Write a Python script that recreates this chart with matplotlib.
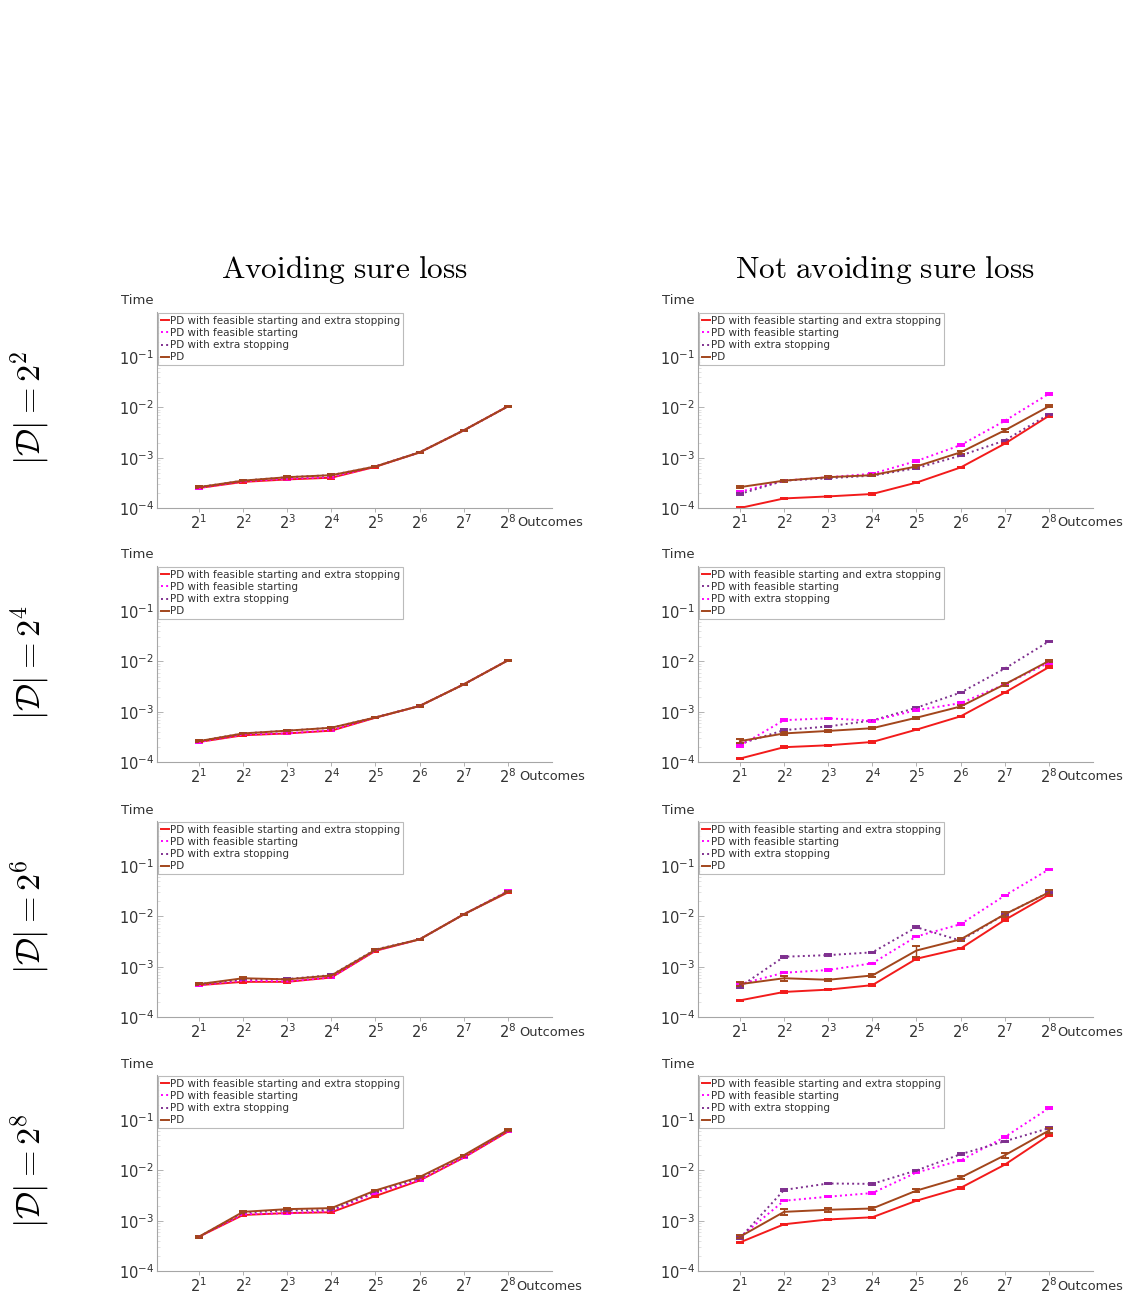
import matplotlib
matplotlib.use("Agg")
import matplotlib.pyplot as plt
from matplotlib.lines import Line2D
import numpy as np

# x positions are exponents of 2 (number of outcomes)
outcome_exp = [1, 2, 3, 4, 5, 6, 7, 8]
outcome_labels = [r"$2^{%d}$" % e for e in outcome_exp]

labels = [
    "PD with feasible starting and extra stopping",
    "PD with feasible starting",
    "PD with extra stopping",
    "PD",
]
col_titles = ["Avoiding sure loss", "Not avoiding sure loss"]
row_titles = [r"$|\mathcal{D}| = 2^2$", r"$|\mathcal{D}| = 2^4$",
              r"$|\mathcal{D}| = 2^6$", r"$|\mathcal{D}| = 2^8$"]

# ---- avoiding sure loss (left column) ----
asl_d2_fsx = [2.5e-4, 3.3e-4, 3.7e-4, 4.0e-4, 6.6e-4, 1.27e-3, 3.5e-3, 1.05e-2]
asl_d2_fs = [2.5e-4, 3.4e-4, 3.8e-4, 4.1e-4, 6.7e-4, 1.28e-3, 3.5e-3, 1.05e-2]
asl_d2_xs = [2.6e-4, 3.5e-4, 4.1e-4, 4.5e-4, 6.7e-4, 1.28e-3, 3.5e-3, 1.05e-2]
asl_d2_pd = [2.6e-4, 3.5e-4, 4.1e-4, 4.5e-4, 6.7e-4, 1.28e-3, 3.5e-3, 1.05e-2]

asl_d4_fsx = [2.5e-4, 3.4e-4, 3.7e-4, 4.2e-4, 7.6e-4, 1.3e-3, 3.5e-3, 1.05e-2]
asl_d4_fs = [2.5e-4, 3.5e-4, 3.7e-4, 4.3e-4, 7.7e-4, 1.3e-3, 3.5e-3, 1.05e-2]
asl_d4_xs = [2.6e-4, 3.7e-4, 4.2e-4, 4.8e-4, 7.7e-4, 1.3e-3, 3.5e-3, 1.05e-2]
asl_d4_pd = [2.6e-4, 3.7e-4, 4.2e-4, 4.8e-4, 7.7e-4, 1.3e-3, 3.5e-3, 1.05e-2]

asl_d6_fsx = [4.3e-4, 5.0e-4, 5.0e-4, 6.1e-4, 2.07e-3, 3.5e-3, 1.1e-2, 3.0e-2]
asl_d6_fs = [4.3e-4, 5.3e-4, 5.1e-4, 6.1e-4, 2.1e-3, 3.5e-3, 1.1e-2, 3.2e-2]
asl_d6_xs = [4.5e-4, 5.6e-4, 5.7e-4, 6.8e-4, 2.2e-3, 3.5e-3, 1.1e-2, 3.1e-2]
asl_d6_pd = [4.5e-4, 5.9e-4, 5.6e-4, 6.7e-4, 2.16e-3, 3.5e-3, 1.1e-2, 3.1e-2]

asl_d8_fsx = [4.8e-4, 1.3e-3, 1.42e-3, 1.47e-3, 3.1e-3, 6.3e-3, 1.8e-2, 5.9e-2]
asl_d8_fs = [4.8e-4, 1.35e-3, 1.4e-3, 1.55e-3, 3.6e-3, 6.4e-3, 1.8e-2, 6.0e-2]
asl_d8_xs = [4.8e-4, 1.45e-3, 1.6e-3, 1.63e-3, 3.8e-3, 7.0e-3, 1.95e-2, 6.2e-2]
asl_d8_pd = [4.8e-4, 1.5e-3, 1.7e-3, 1.78e-3, 4.0e-3, 7.4e-3, 2.0e-2, 6.4e-2]

# ---- not avoiding sure loss (right column) ----
nasl_d2_fsx = [1.0e-4, 1.55e-4, 1.7e-4, 1.9e-4, 3.2e-4, 6.4e-4, 1.9e-3, 6.8e-3]
nasl_d2_fs = [2.1e-4, 3.5e-4, 4.1e-4, 4.8e-4, 8.6e-4, 1.78e-3, 5.4e-3, 1.87e-2]
nasl_d2_xs = [1.9e-4, 3.5e-4, 3.9e-4, 4.4e-4, 6.2e-4, 1.1e-3, 2.2e-3, 7.3e-3]
nasl_d2_pd = [2.6e-4, 3.5e-4, 4.1e-4, 4.5e-4, 6.7e-4, 1.28e-3, 3.5e-3, 1.05e-2]
nasl_d2_pd_err = [0.04, 0.05, 0.05, 0.04, 0.06, 0.08, 0.08, 0.05]

nasl_d4_fsx = [1.17e-4, 1.97e-4, 2.15e-4, 2.5e-4, 4.4e-4, 8.1e-4, 2.4e-3, 7.7e-3]
nasl_d4_fs = [2.3e-4, 4.3e-4, 5.1e-4, 6.7e-4, 1.2e-3, 2.4e-3, 7.2e-3, 2.5e-2]
nasl_d4_xs = [2.1e-4, 6.8e-4, 7.4e-4, 6.6e-4, 1.07e-3, 1.48e-3, 3.5e-3, 9.4e-3]
nasl_d4_pd = [2.6e-4, 3.7e-4, 4.15e-4, 4.7e-4, 7.6e-4, 1.27e-3, 3.5e-3, 1.02e-2]
nasl_d4_pd_err = [0.08, 0.05, 0.04, 0.04, 0.04, 0.05, 0.06, 0.05]

nasl_d6_fsx = [2.14e-4, 3.15e-4, 3.5e-4, 4.3e-4, 1.44e-3, 2.3e-3, 8.5e-3, 2.7e-2]
nasl_d6_fs = [4.5e-4, 7.6e-4, 8.6e-4, 1.17e-3, 4.0e-3, 7.0e-3, 2.6e-2, 8.6e-2]
nasl_d6_xs = [4.0e-4, 1.58e-3, 1.7e-3, 1.93e-3, 6.1e-3, 3.3e-3, 1.1e-2, 3.0e-2]
nasl_d6_pd = [4.5e-4, 5.9e-4, 5.5e-4, 6.7e-4, 2.1e-3, 3.5e-3, 1.1e-2, 3.0e-2]
nasl_d6_pd_err = [0.1, 0.12, 0.05, 0.06, 0.25, 0.08, 0.1, 0.1]

nasl_d8_fsx = [3.7e-4, 8.5e-4, 1.06e-3, 1.17e-3, 2.5e-3, 4.5e-3, 1.3e-2, 5.0e-2]
nasl_d8_fs = [4.7e-4, 2.5e-3, 3.0e-3, 3.55e-3, 9.1e-3, 1.58e-2, 4.6e-2, 1.73e-1]
nasl_d8_xs = [4.5e-4, 4.1e-3, 5.5e-3, 5.4e-3, 1.0e-2, 2.1e-2, 3.8e-2, 6.9e-2]
nasl_d8_pd = [4.8e-4, 1.5e-3, 1.65e-3, 1.75e-3, 3.97e-3, 7.2e-3, 2.0e-2, 6.2e-2]
nasl_d8_pd_err = [0.06, 0.15, 0.08, 0.05, 0.07, 0.06, 0.1, 0.1]

RED = "#f21b1b"
MAGENTA = "#ff00ff"
PURPLE = "#7e2f8e"
BROWN = "#a2461c"
AXIS_GRAY = "#a6a6a6"
TEXT_GRAY = "#333333"

panels = [
    # (row, col, fsx, fs, xs, pd, pd_err, colours for fs/xs)
    (0, 0, asl_d2_fsx, asl_d2_fs, asl_d2_xs, asl_d2_pd, None, (MAGENTA, PURPLE)),
    (1, 0, asl_d4_fsx, asl_d4_fs, asl_d4_xs, asl_d4_pd, None, (MAGENTA, PURPLE)),
    (2, 0, asl_d6_fsx, asl_d6_fs, asl_d6_xs, asl_d6_pd, None, (MAGENTA, PURPLE)),
    (3, 0, asl_d8_fsx, asl_d8_fs, asl_d8_xs, asl_d8_pd, None, (MAGENTA, PURPLE)),
    (0, 1, nasl_d2_fsx, nasl_d2_fs, nasl_d2_xs, nasl_d2_pd, nasl_d2_pd_err, (MAGENTA, PURPLE)),
    (1, 1, nasl_d4_fsx, nasl_d4_fs, nasl_d4_xs, nasl_d4_pd, nasl_d4_pd_err, (PURPLE, MAGENTA)),
    (2, 1, nasl_d6_fsx, nasl_d6_fs, nasl_d6_xs, nasl_d6_pd, nasl_d6_pd_err, (MAGENTA, PURPLE)),
    (3, 1, nasl_d8_fsx, nasl_d8_fs, nasl_d8_xs, nasl_d8_pd, nasl_d8_pd_err, (MAGENTA, PURPLE)),
]

W, H = 1133, 1293
fig = plt.figure(figsize=(W / 100, H / 100), dpi=100)

col_left = [157, 698]
ax_w = 395
ax_h = 196
row_bottom = [508, 762, 1017, 1271]
outcomes_x = [[517, 519, 519, 516], [1057, 1057, 1057, 1057]]

for row, col, fsx, fs, xs, pd_, pd_err, (c_fs, c_xs) in panels:
    ax = fig.add_axes([col_left[col] / W, 1 - row_bottom[row] / H, ax_w / W, ax_h / H])
    series = [
        (fsx, RED, "-", None),
        (fs, c_fs, ":", None),
        (xs, c_xs, ":", None),
        (pd_, BROWN, "-", pd_err),
    ]
    handles = []
    for (vals, color, ls, err), lab in zip(series, labels):
        vals = np.array(vals)
        rel = np.array(err) if err is not None else 0.035
        ax.errorbar(outcome_exp, vals, yerr=vals * rel, color=color, linestyle=ls,
                    linewidth=1.4, capsize=2.6, elinewidth=1.0, capthick=1.4)
        handles.append(Line2D([], [], color=color, linestyle=ls, linewidth=1.4,
                              label=lab))

    ax.set_yscale("log")
    ax.set_ylim(1e-4, 0.79)
    ax.set_xlim(0.05, 9)
    ax.set_yticks([1e-4, 1e-3, 1e-2, 1e-1])
    ax.set_yticklabels([r"$10^{-4}$", r"$10^{-3}$", r"$10^{-2}$", r"$10^{-1}$"])
    ax.set_xticks(outcome_exp)
    ax.set_xticklabels(outcome_labels)
    ax.tick_params(axis="x", direction="out", length=3, width=0.6, color=AXIS_GRAY,
                   labelsize=10.5, labelcolor=TEXT_GRAY, pad=1)
    ax.tick_params(axis="y", which="major", direction="in", length=4, width=0.6,
                   color=AXIS_GRAY, labelsize=10.5, labelcolor=TEXT_GRAY, pad=2)
    ax.tick_params(axis="y", which="minor", direction="in", length=2, width=0.4,
                   color="#cccccc")
    for side in ["top", "right"]:
        ax.spines[side].set_visible(False)
    for side in ["left", "bottom"]:
        ax.spines[side].set_color(AXIS_GRAY)
        ax.spines[side].set_linewidth(0.8)

    ax.text(-20 / ax_w, 1 + 11 / ax_h, "Time", transform=ax.transAxes,
            ha="center", va="center", fontsize=9.5, color=TEXT_GRAY)
    ax.text((outcomes_x[col][row] - col_left[col]) / ax_w, -15 / ax_h, "Outcomes",
            transform=ax.transAxes, ha="left", va="center", fontsize=9.3,
            color=TEXT_GRAY)

    leg = ax.legend(handles=handles, loc="upper left", bbox_to_anchor=(0.0, 1.0),
                    fontsize=7.45, frameon=True, fancybox=False, borderaxespad=0.1,
                    handlelength=0.8, handletextpad=0.15, labelspacing=0.22,
                    borderpad=0.25)
    leg.get_frame().set_edgecolor("#aaaaaa")
    leg.get_frame().set_linewidth(0.8)
    for t in leg.get_texts():
        t.set_color(TEXT_GRAY)

for x, t in zip([345, 885], col_titles):
    fig.text(x / W, 1 - 270 / H, r"$\mathrm{" + t.replace(" ", r"\ ") + "}$",
             ha="center", va="center", fontsize=22.5, math_fontfamily="cm")

for r, t in enumerate(row_titles):
    yc = row_bottom[r] - 100
    fig.text(30 / W, 1 - yc / H, t, ha="center", va="center", rotation=90,
             fontsize=24.5, math_fontfamily="cm")

fig.savefig("out.png", dpi=100)
